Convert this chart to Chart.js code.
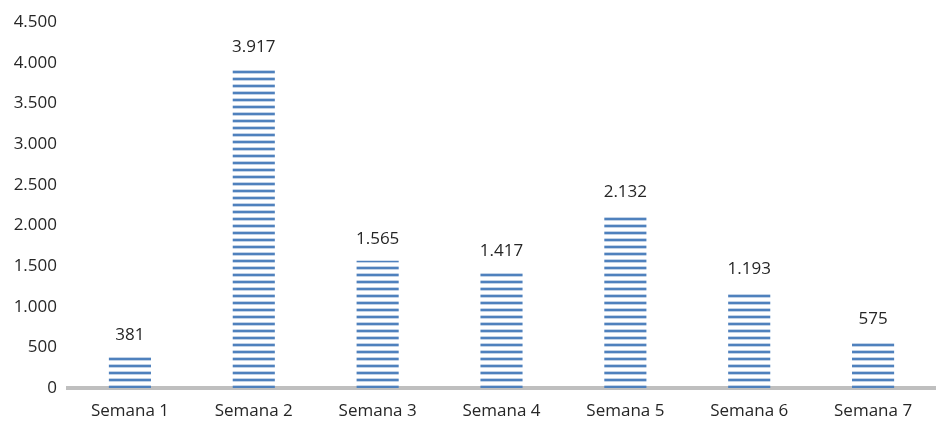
<!DOCTYPE html>
<html>
<head>
<meta charset="utf-8">
<script src="https://cdn.jsdelivr.net/npm/chart.js@4"></script>
<style>
html,body{margin:0;padding:0;background:#fff;}
#wrap{width:946px;height:424px;}
</style>
</head>
<body>
<div id="wrap"><canvas id="c" width="946" height="424"></canvas></div>
<script>
const categories = ["Semana 1","Semana 2","Semana 3","Semana 4","Semana 5","Semana 6","Semana 7"];
const values = [381, 3917, 1565, 1417, 2132, 1193, 575];
const yTicks = [0, 500, 1000, 1500, 2000, 2500, 3000, 3500, 4000, 4500];

function fmt(n){
  return String(n).replace(/\B(?=(\d{3})+(?!\d))/g, ".");
}

// horizontal stripe pattern
const pc = document.createElement('canvas');
pc.width = 8; pc.height = 7;
const px = pc.getContext('2d');
px.fillStyle = 'rgba(79,129,189,0.35)';
px.fillRect(0, 0, 8, 1);
px.fillRect(0, 3, 8, 1);
px.fillStyle = '#4f81bd';
px.fillRect(0, 1, 8, 2);
const ctx0 = document.getElementById('c').getContext('2d');
const stripe = ctx0.createPattern(pc, 'repeat');

const FONT = '"Open Sans", "Noto Sans", sans-serif';
const TXT = '#262626';

const labelPlugin = {
  id: 'labels',
  afterDatasetsDraw(chart){
    const ctx = chart.ctx;
    const meta = chart.getDatasetMeta(0);
    ctx.save();
    ctx.font = '17px ' + FONT;
    ctx.fillStyle = TXT;
    ctx.textAlign = 'center';
    ctx.textBaseline = 'middle';
    meta.data.forEach((bar, i) => {
      ctx.fillText(fmt(values[i]), bar.x, bar.y - 22);
    });
    ctx.restore();
  }
};

new Chart(ctx0, {
  type: 'bar',
  data: {
    labels: categories,
    datasets: [{
      data: values,
      backgroundColor: stripe,
      borderWidth: 0,
      categoryPercentage: 1,
      barPercentage: 0.34
    }]
  },
  options: {
    responsive: false,
    animation: false,
    events: [],
    layout: { padding: { top: 22, right: 11, left: 0, bottom: 0 } },
    plugins: { legend: { display: false }, tooltip: { enabled: false } },
    scales: {
      x: {
        grid: { display: false, drawTicks: false },
        border: { display: true, color: '#bfbfbf', width: 4 },
        ticks: { color: TXT, font: { family: FONT, size: 17 }, padding: 13 },
        afterFit(s){ s.height = 36; }
      },
      y: {
        min: 0, max: 4500,
        afterBuildTicks(s){ s.ticks = yTicks.map(v => ({value: v})); },
        grid: { display: false, drawTicks: false },
        border: { display: false },
        ticks: { color: TXT, font: { family: FONT, size: 17 }, padding: 11, callback: v => fmt(v) },
        afterFit(s){ s.width = 68; }
      }
    }
  },
  plugins: [labelPlugin]
});
</script>
</body>
</html>
